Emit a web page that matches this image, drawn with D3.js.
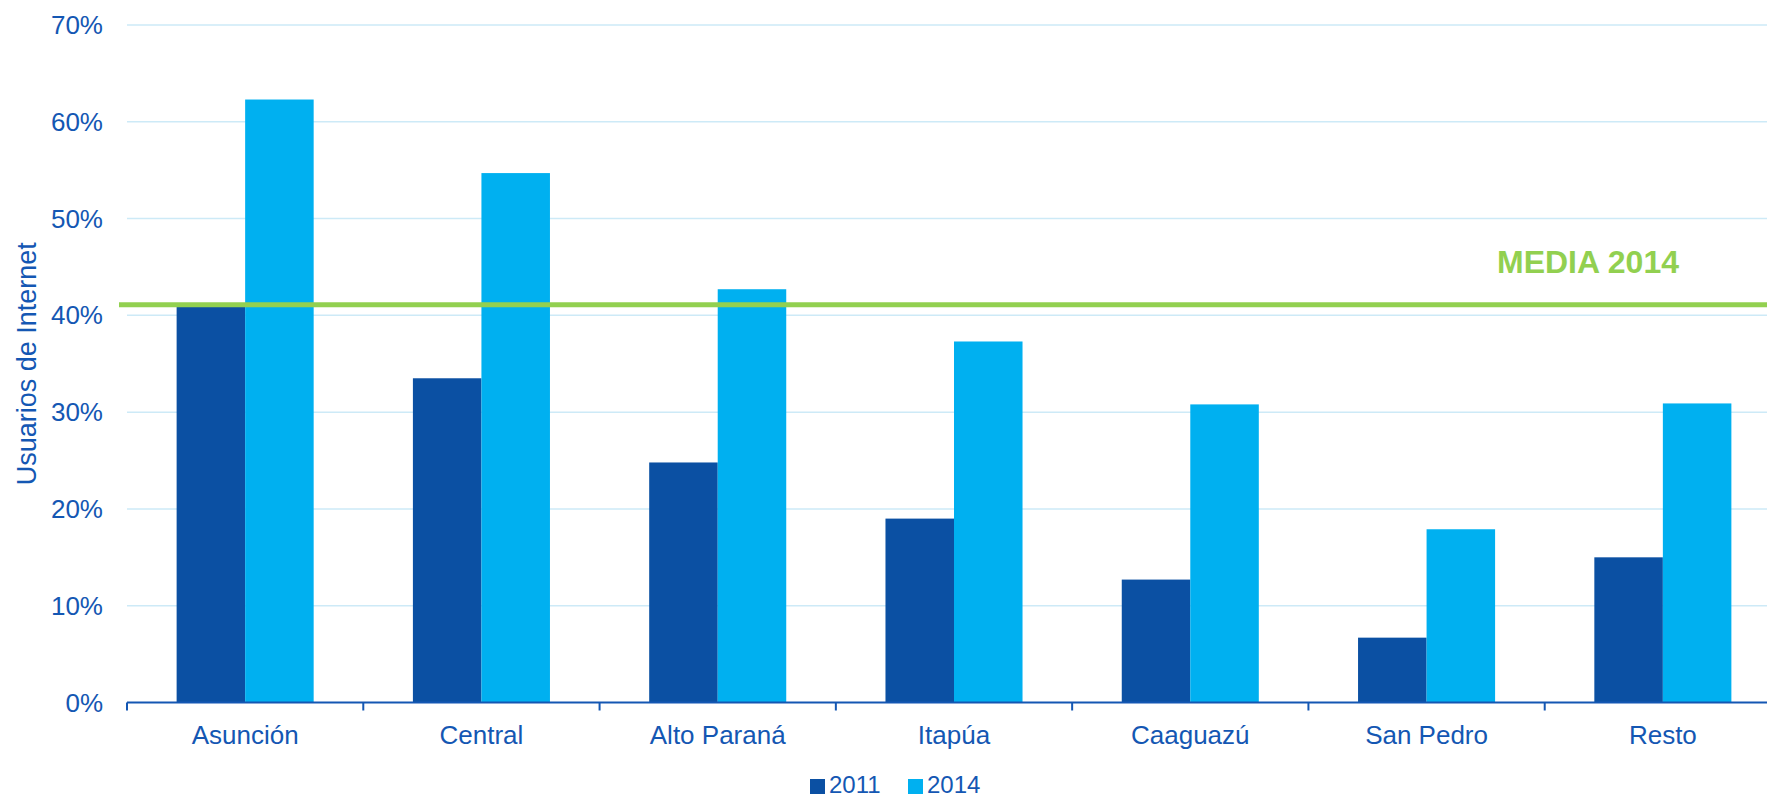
<!DOCTYPE html>
<html>
<head>
<meta charset="utf-8">
<script src="https://cdn.jsdelivr.net/npm/d3@7"></script>
<style>
  html, body { margin: 0; padding: 0; background: #fff; }
  svg { display: block; font-family: Arial, "Liberation Sans", sans-serif; }
</style>
</head>
<body>
<svg id="chart" width="1767" height="798"></svg>
<script>
const categories = ["Asunción", "Central", "Alto Paraná", "Itapúa", "Caaguazú", "San Pedro", "Resto"];
const seriesNames = ["2011", "2014"];
const values2011 = [0.409, 0.335, 0.248, 0.190, 0.127, 0.067, 0.150];
const values2014 = [0.623, 0.547, 0.427, 0.373, 0.308, 0.179, 0.309];
const media2014 = 0.411;
const mediaLabel = "MEDIA 2014";
const yTicks = [0, 0.1, 0.2, 0.3, 0.4, 0.5, 0.6, 0.7];
const yTitle = "Usuarios de Internet";

(function () {
const colors = { "2011": "#0b50a3", "2014": "#00b0f0" };
const textColor = "#1457b3";
const gridColor = "#cdeaf7";
const green = "#92d050";

const svg = d3.select("#chart");
const pLeft = 127, pRight = 1781, pTop = 25, pBottom = 702.5;

const x = d3.scaleBand().domain(categories).range([pLeft, pRight]).paddingInner(0).paddingOuter(0);
const groupFrac = 0.58;
const x1 = d3.scaleBand().domain(seriesNames).range([0, x.bandwidth() * groupFrac]).padding(0);
const groupOffset = x.bandwidth() * (1 - groupFrac) / 2;
const y = d3.scaleLinear().domain([0, 0.7]).range([pBottom, pTop]);

// gridlines
svg.append("g").selectAll("line")
  .data(yTicks.filter(d => d > 0))
  .join("line")
  .attr("x1", pLeft).attr("x2", 1767)
  .attr("y1", d => y(d)).attr("y2", d => y(d))
  .attr("stroke", gridColor).attr("stroke-width", 1.5);

// y tick labels
svg.append("g").selectAll("text")
  .data(yTicks)
  .join("text")
  .attr("x", 103).attr("y", d => y(d))
  .attr("text-anchor", "end").attr("dominant-baseline", "central")
  .attr("font-size", 26).attr("fill", textColor)
  .text(d => d3.format(".0%")(d));

// y title
svg.append("text")
  .attr("transform", `translate(36,${(pTop + pBottom) / 2}) rotate(-90)`)
  .attr("text-anchor", "middle")
  .attr("font-size", 27).attr("fill", textColor)
  .text(yTitle);

// bars
const rows = categories.map((c, i) => ({ cat: c, vals: [
  { key: "2011", v: values2011[i] }, { key: "2014", v: values2014[i] }
]}));
const groups = svg.append("g").selectAll("g")
  .data(rows).join("g")
  .attr("transform", d => `translate(${x(d.cat) + groupOffset},0)`);
groups.selectAll("rect")
  .data(d => d.vals).join("rect")
  .attr("x", d => x1(d.key))
  .attr("width", x1.bandwidth())
  .attr("y", d => y(d.v))
  .attr("height", d => y(0) - y(d.v))
  .attr("fill", d => colors[d.key]);

// x axis
const xAxis = svg.append("g").attr("transform", `translate(0,${pBottom})`);
xAxis.append("line")
  .attr("x1", pLeft).attr("x2", 1767).attr("y1", 0).attr("y2", 0)
  .attr("stroke", "#1457b3").attr("stroke-width", 2.2);
const tickPos = categories.map(c => x(c));
xAxis.selectAll("line.tick")
  .data(tickPos).join("line").attr("class", "tick")
  .attr("x1", d => d).attr("x2", d => d)
  .attr("y1", 0).attr("y2", 8)
  .attr("stroke", "#1457b3").attr("stroke-width", 2);
xAxis.selectAll("text")
  .data(categories).join("text")
  .attr("x", d => x(d) + x.bandwidth() / 2)
  .attr("y", 41)
  .attr("text-anchor", "middle")
  .attr("font-size", 26).attr("fill", textColor)
  .text(d => d);

// media line
svg.append("line")
  .attr("x1", 119).attr("x2", 1767)
  .attr("y1", y(media2014)).attr("y2", y(media2014))
  .attr("stroke", green).attr("stroke-width", 5);
svg.append("text")
  .attr("x", 1497).attr("y", 272.5)
  .attr("font-size", 32).attr("font-weight", "bold").attr("fill", green)
  .text(mediaLabel);

// legend
const legend = svg.append("g");
const legendItems = [{ key: "2011", x: 810 }, { key: "2014", x: 908 }];
legend.selectAll("rect")
  .data(legendItems).join("rect")
  .attr("x", d => d.x).attr("y", 779).attr("width", 15).attr("height", 15)
  .attr("fill", d => colors[d.key]);
legend.selectAll("text")
  .data(legendItems).join("text")
  .attr("x", d => d.x + 19).attr("y", 793)
  .attr("font-size", 24).attr("fill", textColor)
  .text(d => d.key);
})();
</script>
</body>
</html>
